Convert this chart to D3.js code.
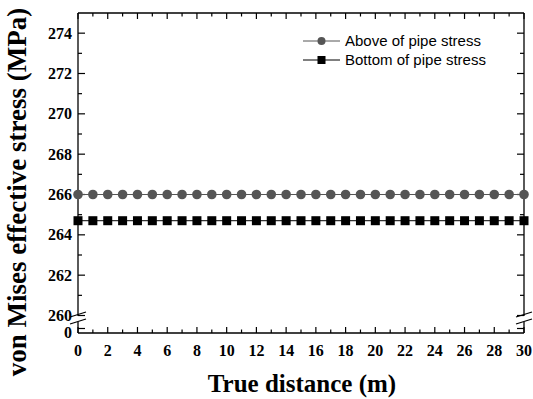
<!DOCTYPE html>
<html>
<head>
<meta charset="utf-8">
<script src="https://cdn.jsdelivr.net/npm/d3@7"></script>
<style>
  body { margin: 0; background: #fff; }
</style>
</head>
<body>
<div class="chart"></div>
<script>
// data
var distance = d3.range(0, 31); // 0..30 m, one point per metre
var aboveStress = distance.map(() => 266.0);
var bottomStress = distance.map(() => 264.7);
var seriesNames = ["Above of pipe stress", "Bottom of pipe stress"];
var yTicksUpper = [260, 262, 264, 266, 268, 270, 272, 274];
var xTicks = [0, 2, 4, 6, 8, 10, 12, 14, 16, 18, 20, 22, 24, 26, 28, 30];

var width = 533, height = 399;
var mLeft = 78, mRight = 524, mTop = 13, mBottom = 333;
var serif = "'Liberation Serif', 'Times New Roman', serif";

var svg = d3.select("div.chart").append("svg")
    .attr("width", width)
    .attr("height", height);

var x = d3.scaleLinear().domain([0, 30]).range([mLeft, mRight]);
// broken y axis: upper part 260-275, lower part just 0
var yUp = d3.scaleLinear().domain([260, 275]).range([315.5, mTop]);
var yLow = d3.scaleLinear().domain([0, 1]).range([mBottom, 324]);

// axis lines
var frame = svg.append("g").attr("stroke", "#000").attr("stroke-width", 1.3).attr("fill", "none");
frame.append("line").attr("x1", mLeft).attr("x2", mRight).attr("y1", mBottom).attr("y2", mBottom);
frame.append("line").attr("x1", mLeft).attr("x2", mRight).attr("y1", mTop).attr("y2", mTop);
[mLeft, mRight].forEach(function(px) {
    frame.append("line").attr("x1", px).attr("x2", px).attr("y1", mTop).attr("y2", 316);
    frame.append("line").attr("x1", px).attr("x2", px).attr("y1", 322).attr("y2", mBottom);
    // break marks
    frame.append("line").attr("x1", px - 8).attr("x2", px + 8).attr("y1", 317).attr("y2", 312);
    frame.append("line").attr("x1", px - 8).attr("x2", px + 8).attr("y1", 324).attr("y2", 319);
});

// ticks, inward
var xMinor = d3.range(1, 30, 2);
var tk = svg.append("g").attr("stroke", "#000").attr("stroke-width", 1.2);
xTicks.forEach(function(v) {
    tk.append("line").attr("x1", x(v)).attr("x2", x(v)).attr("y1", mBottom).attr("y2", mBottom - 6);
    tk.append("line").attr("x1", x(v)).attr("x2", x(v)).attr("y1", mTop).attr("y2", mTop + 6);
});
xMinor.forEach(function(v) {
    tk.append("line").attr("x1", x(v)).attr("x2", x(v)).attr("y1", mBottom).attr("y2", mBottom - 3.5);
    tk.append("line").attr("x1", x(v)).attr("x2", x(v)).attr("y1", mTop).attr("y2", mTop + 3.5);
});
var yMinor = d3.range(261, 275, 2);
yTicksUpper.forEach(function(v) {
    tk.append("line").attr("x1", mLeft).attr("x2", mLeft + 7).attr("y1", yUp(v)).attr("y2", yUp(v));
    tk.append("line").attr("x1", mRight).attr("x2", mRight - 7).attr("y1", yUp(v)).attr("y2", yUp(v));
});
yMinor.forEach(function(v) {
    tk.append("line").attr("x1", mLeft).attr("x2", mLeft + 4).attr("y1", yUp(v)).attr("y2", yUp(v));
    tk.append("line").attr("x1", mRight).attr("x2", mRight - 4).attr("y1", yUp(v)).attr("y2", yUp(v));
});
tk.append("line").attr("x1", mLeft).attr("x2", mLeft + 7).attr("y1", yLow(0.5)).attr("y2", yLow(0.5));
tk.append("line").attr("x1", mRight).attr("x2", mRight - 7).attr("y1", yLow(0.5)).attr("y2", yLow(0.5));

// tick labels
var lab = svg.append("g")
    .style("font-family", serif)
    .style("font-weight", "bold")
    .style("font-size", "16px");
xTicks.forEach(function(v) {
    lab.append("text").attr("x", x(v)).attr("y", 356).attr("text-anchor", "middle").text(v);
});
yTicksUpper.forEach(function(v) {
    lab.append("text").attr("x", 72).attr("y", yUp(v)).attr("dy", "0.35em").attr("text-anchor", "end").text(v);
});
lab.append("text").attr("x", 72).attr("y", 332).attr("dy", "0.35em").attr("text-anchor", "end").text(0);

// axis titles
svg.append("text")
    .attr("x", 302).attr("y", 392)
    .attr("text-anchor", "middle")
    .style("font-family", serif)
    .style("font-weight", "bold").style("font-size", "25px")
    .text("True distance (m)");
svg.append("text")
    .attr("transform", "translate(26,192) rotate(-90)")
    .attr("text-anchor", "middle")
    .style("font-family", serif)
    .style("font-weight", "bold").style("font-size", "27px")
    .text("von Mises effective stress (MPa)");

// series
var line = d3.line().x((d, i) => x(distance[i])).y(d => yUp(d));
svg.append("path").datum(aboveStress).attr("d", line)
    .attr("fill", "none").attr("stroke", "#555").attr("stroke-width", 1);
svg.append("path").datum(bottomStress).attr("d", line)
    .attr("fill", "none").attr("stroke", "#000").attr("stroke-width", 1);

svg.selectAll("circle.above").data(aboveStress).enter().append("circle")
    .attr("class", "above")
    .attr("cx", (d, i) => x(distance[i])).attr("cy", d => yUp(d))
    .attr("r", 4.8).attr("fill", "#555");
svg.selectAll("rect.bottom").data(bottomStress).enter().append("rect")
    .attr("class", "bottom")
    .attr("x", (d, i) => x(distance[i]) - 4.5).attr("y", d => yUp(d) - 4.5)
    .attr("width", 9).attr("height", 9).attr("fill", "#000");

// legend
var legend = svg.append("g").attr("transform", "translate(303,41)");
seriesNames.forEach(function(name, i) {
    var g = legend.append("g").attr("transform", "translate(0," + (i * 19) + ")");
    var col = i === 0 ? "#555" : "#000";
    g.append("line").attr("x1", 0).attr("x2", 37).attr("stroke", col).attr("stroke-width", 1);
    if (i === 0) g.append("circle").attr("cx", 18.5).attr("r", 4).attr("fill", col);
    else g.append("rect").attr("x", 14.5).attr("y", -4).attr("width", 8).attr("height", 8).attr("fill", col);
    g.append("text").attr("x", 42).attr("dy", "0.35em")
        .style("font-family", "'Liberation Sans', Arial, sans-serif")
        .style("font-size", "15px")
        .text(name);
});
</script>
</body>
</html>
